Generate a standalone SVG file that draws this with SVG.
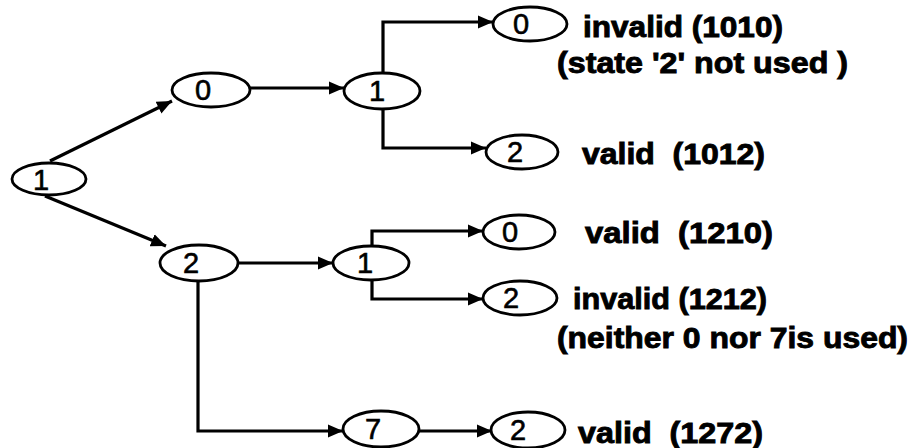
<svg xmlns="http://www.w3.org/2000/svg" width="914" height="448" viewBox="0 0 914 448">
  <defs>
    <marker id="arrow" markerUnits="userSpaceOnUse" markerWidth="18" markerHeight="16" refX="15" refY="8" orient="auto">
      <path d="M0,1.5 L15,8 L0,14.5 Z" fill="#000"/>
    </marker>
    <style>
      .node ellipse { fill: #fff; stroke: #000; stroke-width: 2.8; }
      .node text { font-family: "Liberation Sans", Arial, sans-serif; font-size: 29px; fill: #000; stroke: #000; stroke-width: 0.6; text-anchor: middle; }
      .edge { fill: none; stroke: #000; stroke-width: 3.2; marker-end: url(#arrow); }
      .note { font-family: "Liberation Sans", Arial, sans-serif; font-size: 29px; font-weight: bold; fill: #000; stroke: #000; stroke-width: 0.9; }
    </style>
  </defs>
  <rect width="914" height="448" fill="#fff"/>

  <!-- connectors -->
  <g id="connectors">
    <path class="edge" d="M50,161 L172,101"/>
    <path class="edge" d="M45,196 L166,246"/>
    <path class="edge" d="M250,88 H344"/>
    <path class="edge" d="M383,72 V22 H493"/>
    <path class="edge" d="M383,110 V148 H486"/>
    <path class="edge" d="M238,263 H333"/>
    <path class="edge" d="M372,247 V231 H483"/>
    <path class="edge" d="M372,280 V299 H483"/>
    <path class="edge" d="M198,281 V431 H343"/>
    <path class="edge" d="M419,431 H492"/>
  </g>

  <!-- states -->
  <g id="n-root" class="node"><ellipse cx="49" cy="179" rx="37" ry="16"/><text x="41" y="190">1</text></g>
  <g id="n-a0" class="node"><ellipse cx="211" cy="90" rx="39" ry="17"/><text x="203" y="100">0</text></g>
  <g id="n-a1" class="node"><ellipse cx="382" cy="91" rx="38" ry="18"/><text x="377" y="101">1</text></g>
  <g id="n-a10" class="node"><ellipse cx="530" cy="24" rx="37" ry="17"/><text x="521" y="34">0</text></g>
  <g id="n-a12" class="node"><ellipse cx="522" cy="152" rx="36" ry="17"/><text x="515" y="162">2</text></g>
  <g id="n-b2" class="node"><ellipse cx="199" cy="263" rx="39" ry="18"/><text x="191" y="273">2</text></g>
  <g id="n-b1" class="node"><ellipse cx="371" cy="263" rx="38" ry="17"/><text x="365" y="273">1</text></g>
  <g id="n-b10" class="node"><ellipse cx="519" cy="232" rx="36" ry="17"/><text x="510" y="242">0</text></g>
  <g id="n-b12" class="node"><ellipse cx="520" cy="298" rx="37" ry="17"/><text x="511" y="308">2</text></g>
  <g id="n-b7" class="node"><ellipse cx="381" cy="429" rx="38" ry="18"/><text x="373" y="439">7</text></g>
  <g id="n-b72" class="node"><ellipse cx="528" cy="430" rx="37" ry="18"/><text x="518" y="440">2</text></g>

  <!-- outcome notes -->
  <g id="notes">
    <text class="note" x="583" y="37" textLength="200" lengthAdjust="spacingAndGlyphs">invalid (1010)</text>
    <text class="note" x="557" y="73" textLength="291" lengthAdjust="spacingAndGlyphs">(state '2' not used )</text>
    <text class="note" x="582" y="164" textLength="183" lengthAdjust="spacingAndGlyphs" xml:space="preserve">valid  (1012)</text>
    <text class="note" x="585" y="243" textLength="188" lengthAdjust="spacingAndGlyphs" xml:space="preserve">valid  (1210)</text>
    <text class="note" x="573" y="309" textLength="194" lengthAdjust="spacingAndGlyphs">invalid (1212)</text>
    <text class="note" x="557" y="348" textLength="351" lengthAdjust="spacingAndGlyphs">(neither 0 nor 7is used)</text>
    <text class="note" x="578" y="443" textLength="185" lengthAdjust="spacingAndGlyphs" xml:space="preserve">valid  (1272)</text>
  </g>
</svg>
